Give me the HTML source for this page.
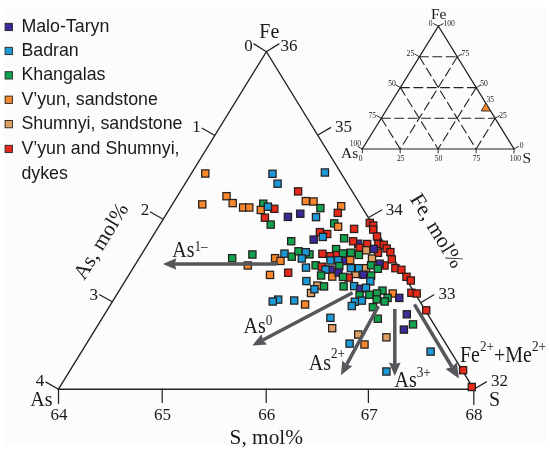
<!DOCTYPE html>
<html><head><meta charset="utf-8"><title>Ternary</title>
<style>
html,body{margin:0;padding:0;background:#fff;}
body{width:550px;height:450px;overflow:hidden;}
svg{display:block;will-change:transform;opacity:0.999}
text{font-family:"Liberation Serif",serif;fill:#1a1a1a;}
.ss{font-family:"Liberation Sans",sans-serif;font-size:17.8px;fill:#1a1a1a;}
.ax{stroke:#222;stroke-width:1.25;fill:none;stroke-linecap:round}
.t17{font-size:17px}
.t21{font-size:21.3px}
.t20{font-size:20px}
.sup{font-size:13.2px}
.ar{stroke:#55565a;stroke-width:3.2;fill:none}
.ah{fill:#55565a}
.mk rect{stroke:#261e1a;stroke-width:1.25}
.in text{font-size:7.6px}
</style></head><body>
<svg width="550" height="450" viewBox="0 0 550 450">
<rect width="550" height="450" fill="#fff"/>
<rect x="3" y="7" width="543" height="439" fill="#fcfcfd"/>
<!-- legend -->
<rect x="5.1" y="23.3" width="7.3" height="7.3" fill="#3a2a9c" stroke="#222" stroke-width="0.9"/><text x="21.4" y="31.8" class="ss">Malo-Taryn</text>
<rect x="5.1" y="47.3" width="7.3" height="7.3" fill="#1b9ad7" stroke="#222" stroke-width="0.9"/><text x="21.4" y="55.8" class="ss">Badran</text>
<rect x="5.1" y="71.7" width="7.3" height="7.3" fill="#10a24f" stroke="#222" stroke-width="0.9"/><text x="21.4" y="80.2" class="ss">Khangalas</text>
<rect x="5.1" y="96.1" width="7.3" height="7.3" fill="#f7882d" stroke="#222" stroke-width="0.9"/><text x="21.4" y="104.6" class="ss">V’yun, sandstone</text>
<rect x="5.1" y="120.5" width="7.3" height="7.3" fill="#dd9f63" stroke="#222" stroke-width="0.9"/><text x="21.4" y="129.0" class="ss">Shumnyi, sandstone</text>
<rect x="5.1" y="145.3" width="7.3" height="7.3" fill="#e5291b" stroke="#222" stroke-width="0.9"/><text x="21.4" y="153.8" class="ss">V’yun and Shumnyi,</text>
<text x="21.4" y="178.8" class="ss">dykes</text>
<!-- main triangle -->
<path class="ax" style="stroke-width:1.35" d="M58.5,389.2 L266.4,51.7 L473.8,389.2"/>
<path class="ax" style="stroke-width:1.5" d="M58.1,389.25 H474.2"/>
<path class="ax" d="M266.4,51.7 L253.9,43.9 M266.4,51.7 L278.9,43.9"/>
<path class="ax" d="M214.5,135.2 L202.2,128.2 M162.2,218.8 L150.4,212 M111.8,301.5 L99.6,294.8 M58.5,389.2 L46,382.1"/>
<path class="ax" d="M58.5,389.2 V403.6 M162.2,389.2 V402.4 M266.2,389.2 V402.4 M368.4,389.2 V402.4 M473.8,389.2 V404.5"/>
<path class="ax" d="M318.3,134.8 L330.6,127.6 M369.1,217.2 L381.7,210 M421.4,302.2 L433.9,294.8 M473.8,389.2 L486.4,381.9"/>
<!-- labels -->
<text x="259.3" y="37.6" class="t20">Fe</text>
<text x="244.2" y="51.2" class="t17">0</text>
<text x="280.4" y="51.2" class="t17">36</text>
<text x="192.3" y="132.4" class="t17">1</text>
<text x="140.8" y="215" class="t17">2</text>
<text x="89.5" y="299.5" class="t17">3</text>
<text x="35.8" y="385.8" class="t17">4</text>
<text x="30.2" y="405.9" class="t20">As</text>
<text x="50.5" y="420" class="t17">64</text>
<text x="154" y="420" class="t17">65</text>
<text x="258.2" y="420" class="t17">66</text>
<text x="360.8" y="420" class="t17">67</text>
<text x="465.5" y="419.5" class="t17">68</text>
<text x="489" y="406" class="t20">S</text>
<text x="491" y="385.6" class="t17">32</text>
<text x="438.6" y="299" class="t17">33</text>
<text x="385.8" y="214.8" class="t17">34</text>
<text x="335" y="132.3" class="t17">35</text>
<text x="229.6" y="443.6" class="t21">S, mol%</text>
<text transform="translate(84.3,281) rotate(-58.4)" class="t21">As, mol%</text>
<text transform="translate(409.5,199) rotate(58.4)" class="t21">Fe, mol%</text>
<!-- markers -->
<g class="mk">
<rect x="201.7" y="169.9" width="7.2" height="7.2" fill="#f7882d"/>
<rect x="198.7" y="200.8" width="7.2" height="7.2" fill="#f7882d"/>
<rect x="222.9" y="192.6" width="7.2" height="7.2" fill="#f7882d"/>
<rect x="229.1" y="199.5" width="7.2" height="7.2" fill="#f7882d"/>
<rect x="239.5" y="203.9" width="7.2" height="7.2" fill="#f7882d"/>
<rect x="245.7" y="203.9" width="7.2" height="7.2" fill="#f7882d"/>
<rect x="259.7" y="200.1" width="7.2" height="7.2" fill="#10a24f"/>
<rect x="257.2" y="206.4" width="7.2" height="7.2" fill="#f7882d"/>
<rect x="270.7" y="205.2" width="7.2" height="7.2" fill="#e5291b"/>
<rect x="264.3" y="203.1" width="7.2" height="7.2" fill="#1b9ad7"/>
<rect x="261.3" y="214.1" width="7.2" height="7.2" fill="#e5291b"/>
<rect x="267.1" y="221.0" width="7.2" height="7.2" fill="#10a24f"/>
<rect x="268.9" y="170.2" width="7.2" height="7.2" fill="#1b9ad7"/>
<rect x="274.0" y="180.1" width="7.2" height="7.2" fill="#1b9ad7"/>
<rect x="294.5" y="187.8" width="7.2" height="7.2" fill="#e5291b"/>
<rect x="302.2" y="197.5" width="7.2" height="7.2" fill="#f7882d"/>
<rect x="309.9" y="197.9" width="7.2" height="7.2" fill="#f7882d"/>
<rect x="316.8" y="204.5" width="7.2" height="7.2" fill="#10a24f"/>
<rect x="312.4" y="213.5" width="7.2" height="7.2" fill="#1b9ad7"/>
<rect x="284.3" y="213.3" width="7.2" height="7.2" fill="#3a2a9c"/>
<rect x="296.7" y="210.1" width="7.2" height="7.2" fill="#3a2a9c"/>
<rect x="321.3" y="168.9" width="7.2" height="7.2" fill="#1b9ad7"/>
<rect x="287.6" y="237.6" width="7.2" height="7.2" fill="#10a24f"/>
<rect x="310.1" y="236.0" width="7.2" height="7.2" fill="#3a2a9c"/>
<rect x="316.3" y="228.5" width="7.2" height="7.2" fill="#e5291b"/>
<rect x="323.6" y="230.4" width="7.2" height="7.2" fill="#e5291b"/>
<rect x="319.2" y="233.3" width="7.2" height="7.2" fill="#1b9ad7"/>
<rect x="337.6" y="202.6" width="7.2" height="7.2" fill="#f7882d"/>
<rect x="334.2" y="209.3" width="7.2" height="7.2" fill="#e5291b"/>
<rect x="330.6" y="219.8" width="7.2" height="7.2" fill="#10a24f"/>
<rect x="334.5" y="223.1" width="7.2" height="7.2" fill="#f7882d"/>
<rect x="350.5" y="225.3" width="7.2" height="7.2" fill="#e5291b"/>
<rect x="366.2" y="219.3" width="7.2" height="7.2" fill="#e5291b"/>
<rect x="369.6" y="221.9" width="7.2" height="7.2" fill="#e5291b"/>
<rect x="369.6" y="226.0" width="7.2" height="7.2" fill="#e5291b"/>
<rect x="373.4" y="232.9" width="7.2" height="7.2" fill="#e5291b"/>
<rect x="340.5" y="234.7" width="7.2" height="7.2" fill="#10a24f"/>
<rect x="354.6" y="240.1" width="7.2" height="7.2" fill="#3a2a9c"/>
<rect x="349.5" y="237.7" width="7.2" height="7.2" fill="#e5291b"/>
<rect x="363.6" y="240.4" width="7.2" height="7.2" fill="#e5291b"/>
<rect x="374.7" y="240.4" width="7.2" height="7.2" fill="#e5291b"/>
<rect x="356.0" y="244.1" width="7.2" height="7.2" fill="#e5291b"/>
<rect x="362.6" y="246.7" width="7.2" height="7.2" fill="#dd9f63"/>
<rect x="332.5" y="245.5" width="7.2" height="7.2" fill="#10a24f"/>
<rect x="380.2" y="241.2" width="7.2" height="7.2" fill="#e5291b"/>
<rect x="383.1" y="244.9" width="7.2" height="7.2" fill="#e5291b"/>
<rect x="386.8" y="248.5" width="7.2" height="7.2" fill="#e5291b"/>
<rect x="388.2" y="255.8" width="7.2" height="7.2" fill="#e5291b"/>
<rect x="374.4" y="249.2" width="7.2" height="7.2" fill="#e5291b"/>
<rect x="380.9" y="261.9" width="7.2" height="7.2" fill="#e5291b"/>
<rect x="391.8" y="264.6" width="7.2" height="7.2" fill="#e5291b"/>
<rect x="397.8" y="266.2" width="7.2" height="7.2" fill="#e5291b"/>
<rect x="402.9" y="273.2" width="7.2" height="7.2" fill="#e5291b"/>
<rect x="407.2" y="276.9" width="7.2" height="7.2" fill="#e5291b"/>
<rect x="407.8" y="289.2" width="7.2" height="7.2" fill="#e5291b"/>
<rect x="413.1" y="289.9" width="7.2" height="7.2" fill="#e5291b"/>
<rect x="422.6" y="306.7" width="7.2" height="7.2" fill="#e5291b"/>
<rect x="459.5" y="366.6" width="7.2" height="7.2" fill="#e5291b"/>
<rect x="468.2" y="383.4" width="7.2" height="7.2" fill="#e5291b"/>
<rect x="370.3" y="245.3" width="7.2" height="7.2" fill="#3a2a9c"/>
<rect x="228.6" y="254.6" width="7.2" height="7.2" fill="#10a24f"/>
<rect x="248.8" y="250.9" width="7.2" height="7.2" fill="#10a24f"/>
<rect x="244.2" y="261.9" width="7.2" height="7.2" fill="#f7882d"/>
<rect x="271.5" y="254.6" width="7.2" height="7.2" fill="#f7882d"/>
<rect x="276.9" y="257.3" width="7.2" height="7.2" fill="#f7882d"/>
<rect x="280.9" y="250.0" width="7.2" height="7.2" fill="#1b9ad7"/>
<rect x="288.2" y="253.1" width="7.2" height="7.2" fill="#10a24f"/>
<rect x="294.9" y="247.7" width="7.2" height="7.2" fill="#10a24f"/>
<rect x="305.9" y="250.8" width="7.2" height="7.2" fill="#10a24f"/>
<rect x="302.2" y="248.6" width="7.2" height="7.2" fill="#1b9ad7"/>
<rect x="298.2" y="254.9" width="7.2" height="7.2" fill="#1b9ad7"/>
<rect x="318.8" y="250.2" width="7.2" height="7.2" fill="#e5291b"/>
<rect x="326.9" y="252.6" width="7.2" height="7.2" fill="#e5291b"/>
<rect x="333.5" y="251.5" width="7.2" height="7.2" fill="#e5291b"/>
<rect x="339.3" y="249.8" width="7.2" height="7.2" fill="#10a24f"/>
<rect x="347.3" y="249.1" width="7.2" height="7.2" fill="#10a24f"/>
<rect x="355.3" y="251.3" width="7.2" height="7.2" fill="#10a24f"/>
<rect x="340.0" y="257.3" width="7.2" height="7.2" fill="#3a2a9c"/>
<rect x="326.9" y="256.9" width="7.2" height="7.2" fill="#1b9ad7"/>
<rect x="334.5" y="256.6" width="7.2" height="7.2" fill="#1b9ad7"/>
<rect x="346.6" y="256.6" width="7.2" height="7.2" fill="#f7882d"/>
<rect x="368.4" y="255.0" width="7.2" height="7.2" fill="#dd9f63"/>
<rect x="376.0" y="260.1" width="7.2" height="7.2" fill="#3a2a9c"/>
<rect x="312.0" y="261.7" width="7.2" height="7.2" fill="#10a24f"/>
<rect x="302.4" y="264.0" width="7.2" height="7.2" fill="#1b9ad7"/>
<rect x="318.2" y="263.1" width="7.2" height="7.2" fill="#e5291b"/>
<rect x="326.9" y="266.0" width="7.2" height="7.2" fill="#3a2a9c"/>
<rect x="321.9" y="266.0" width="7.2" height="7.2" fill="#1b9ad7"/>
<rect x="335.7" y="262.4" width="7.2" height="7.2" fill="#10a24f"/>
<rect x="351.7" y="270.4" width="7.2" height="7.2" fill="#dd9f63"/>
<rect x="347.3" y="264.6" width="7.2" height="7.2" fill="#1b9ad7"/>
<rect x="355.3" y="264.6" width="7.2" height="7.2" fill="#1b9ad7"/>
<rect x="362.4" y="264.6" width="7.2" height="7.2" fill="#dd9f63"/>
<rect x="367.5" y="261.7" width="7.2" height="7.2" fill="#10a24f"/>
<rect x="374.2" y="265.2" width="7.2" height="7.2" fill="#10a24f"/>
<rect x="266.4" y="271.3" width="7.2" height="7.2" fill="#f7882d"/>
<rect x="284.6" y="269.1" width="7.2" height="7.2" fill="#e5291b"/>
<rect x="317.5" y="271.9" width="7.2" height="7.2" fill="#10a24f"/>
<rect x="328.7" y="273.0" width="7.2" height="7.2" fill="#f7882d"/>
<rect x="334.9" y="268.9" width="7.2" height="7.2" fill="#3a2a9c"/>
<rect x="345.1" y="274.0" width="7.2" height="7.2" fill="#e5291b"/>
<rect x="339.3" y="273.3" width="7.2" height="7.2" fill="#10a24f"/>
<rect x="359.8" y="271.1" width="7.2" height="7.2" fill="#3a2a9c"/>
<rect x="367.5" y="271.9" width="7.2" height="7.2" fill="#10a24f"/>
<rect x="302.8" y="277.5" width="7.2" height="7.2" fill="#1b9ad7"/>
<rect x="366.7" y="277.8" width="7.2" height="7.2" fill="#1b9ad7"/>
<rect x="313.8" y="282.0" width="7.2" height="7.2" fill="#dd9f63"/>
<rect x="307.4" y="289.4" width="7.2" height="7.2" fill="#dd9f63"/>
<rect x="320.4" y="282.8" width="7.2" height="7.2" fill="#10a24f"/>
<rect x="310.8" y="285.6" width="7.2" height="7.2" fill="#1b9ad7"/>
<rect x="340.0" y="282.8" width="7.2" height="7.2" fill="#10a24f"/>
<rect x="350.5" y="282.5" width="7.2" height="7.2" fill="#1b9ad7"/>
<rect x="356.7" y="285.2" width="7.2" height="7.2" fill="#3a2a9c"/>
<rect x="362.4" y="284.2" width="7.2" height="7.2" fill="#1b9ad7"/>
<rect x="378.9" y="287.0" width="7.2" height="7.2" fill="#10a24f"/>
<rect x="373.3" y="289.9" width="7.2" height="7.2" fill="#10a24f"/>
<rect x="365.7" y="291.2" width="7.2" height="7.2" fill="#10a24f"/>
<rect x="356.0" y="291.5" width="7.2" height="7.2" fill="#10a24f"/>
<rect x="389.1" y="289.9" width="7.2" height="7.2" fill="#f7882d"/>
<rect x="395.7" y="294.3" width="7.2" height="7.2" fill="#3a2a9c"/>
<rect x="384.0" y="294.3" width="7.2" height="7.2" fill="#10a24f"/>
<rect x="373.1" y="295.8" width="7.2" height="7.2" fill="#10a24f"/>
<rect x="381.1" y="297.9" width="7.2" height="7.2" fill="#10a24f"/>
<rect x="358.3" y="297.0" width="7.2" height="7.2" fill="#1b9ad7"/>
<rect x="351.2" y="298.1" width="7.2" height="7.2" fill="#1b9ad7"/>
<rect x="348.2" y="302.4" width="7.2" height="7.2" fill="#1b9ad7"/>
<rect x="369.3" y="303.6" width="7.2" height="7.2" fill="#10a24f"/>
<rect x="274.6" y="296.0" width="7.2" height="7.2" fill="#1b9ad7"/>
<rect x="269.1" y="297.9" width="7.2" height="7.2" fill="#1b9ad7"/>
<rect x="290.6" y="296.9" width="7.2" height="7.2" fill="#1b9ad7"/>
<rect x="301.5" y="300.9" width="7.2" height="7.2" fill="#f7882d"/>
<rect x="326.8" y="314.2" width="7.2" height="7.2" fill="#1b9ad7"/>
<rect x="328.6" y="324.6" width="7.2" height="7.2" fill="#dd9f63"/>
<rect x="354.6" y="330.9" width="7.2" height="7.2" fill="#dd9f63"/>
<rect x="346.0" y="340.0" width="7.2" height="7.2" fill="#1b9ad7"/>
<rect x="360.9" y="340.9" width="7.2" height="7.2" fill="#f7882d"/>
<rect x="374.2" y="315.1" width="7.2" height="7.2" fill="#10a24f"/>
<rect x="382.8" y="333.7" width="7.2" height="7.2" fill="#dd9f63"/>
<rect x="403.2" y="310.7" width="7.2" height="7.2" fill="#3a2a9c"/>
<rect x="409.4" y="320.8" width="7.2" height="7.2" fill="#10a24f"/>
<rect x="400.3" y="326.0" width="7.2" height="7.2" fill="#3a2a9c"/>
<rect x="382.8" y="367.9" width="7.2" height="7.2" fill="#1b9ad7"/>
<rect x="427.0" y="348.0" width="7.2" height="7.2" fill="#1b9ad7"/>
</g>
<!-- arrows -->
<line x1="276.5" y1="264.0" x2="174.8" y2="264.0" stroke="#56575b" stroke-width="3.3"/><polygon fill="#56575b" points="162.8,264.0 176.3,258.2 174.8,264.0 176.3,269.8"/><line x1="352.6" y1="292.8" x2="262.9" y2="340.0" stroke="#56575b" stroke-width="3.5"/><polygon fill="#56575b" points="252.3,345.6 261.5,334.2 262.9,340.0 266.9,344.4"/><line x1="378.4" y1="306.2" x2="346.6" y2="364.7" stroke="#56575b" stroke-width="3.5"/><polygon fill="#56575b" points="340.9,375.2 342.3,360.6 346.6,364.7 352.4,366.1"/><line x1="394.8" y1="309.0" x2="394.8" y2="364.0" stroke="#56575b" stroke-width="3.5"/><polygon fill="#56575b" points="394.8,376.0 389.0,362.5 394.8,364.0 400.6,362.5"/><line x1="414.4" y1="304.4" x2="452.0" y2="367.0" stroke="#56575b" stroke-width="3.5"/><polygon fill="#56575b" points="458.9,378.6 445.5,369.1 452.0,367.0 456.8,362.3"/>
<!-- arrow labels -->
<g transform="translate(172.3,257.4) scale(1,1.12)"><text x="0" y="0" class="t20">As<tspan dy="-5.9" class="sup">1–</tspan></text></g><g transform="translate(243.6,333.3) scale(1,1.12)"><text x="0" y="0" class="t20">As<tspan dy="-7.8" class="sup">0</tspan></text></g><g transform="translate(308.7,370.2) scale(1,1.12)"><text x="0" y="0" class="t20">As<tspan dy="-10.7" class="sup">2+</tspan></text></g><g transform="translate(394.5,386.5) scale(1,1.12)"><text x="0" y="0" class="t20">As<tspan dy="-8.9" class="sup">3+</tspan></text></g><g transform="translate(460,361.5) scale(1,1.12)"><text x="0" y="0" class="t20">Fe<tspan dy="-9.4" class="sup">2+</tspan><tspan dy="9.4">+Me</tspan><tspan dy="-9.4" class="sup">2+</tspan></text></g>
<!-- inset -->
<g class="in"><path class="ax" style="stroke-width:1.2" d="M438.4,26.1 L362.3,149.0 L514.0,149.0 Z"/><path class="ax" style="stroke-width:1.1" stroke-dasharray="9 4.4" d="M419.4,56.8 L457.3,56.8 M419.4,56.8 L476.1,149.0 M457.3,56.8 L400.2,149.0 M400.4,87.6 L476.2,87.6 M400.4,87.6 L438.1,149.0 M476.2,87.6 L438.1,149.0 M381.3,118.3 L495.1,118.3 M381.3,118.3 L400.2,149.0 M495.1,118.3 L476.1,149.0 "/><path class="ax" style="stroke-width:0.95" d="M419.4,56.8 l-4.6,-2.7 M457.3,56.8 l4.6,-2.7 M400.2,149.0 v4 M400.4,87.6 l-4.6,-2.7 M476.2,87.6 l4.6,-2.7 M438.1,149.0 v4 M381.3,118.3 l-4.6,-2.7 M495.1,118.3 l4.6,-2.7 M476.1,149.0 v4 M438.4,26.1 l-4.8,-2.4 M438.4,26.1 l4.8,-2.4 M362.3,149.0 l-4.4,-2.4 M362.3,149.0 v4 M514.0,149.0 l4.6,-2.6 M514.0,149.0 v4"/><polygon points="485.8,103 481.3,111 490.3,111" fill="#f7882d" stroke="#2a2420" stroke-width="0.9"/><text x="431" y="19" style="font-size:15.5px">Fe</text><text x="341" y="157.6" style="font-size:15.5px">As</text><text x="522.5" y="162.6" style="font-size:15.5px">S</text><text x="430.6" y="25.6" text-anchor="middle">0</text><text x="449.2" y="25.6" text-anchor="middle">100</text><text x="410.4" y="55.8" text-anchor="middle">25</text><text x="465.4" y="55.8" text-anchor="middle">75</text><text x="392" y="86.2" text-anchor="middle">50</text><text x="484" y="85.6" text-anchor="middle">50</text><text x="490.2" y="102" text-anchor="middle">35</text><text x="372.2" y="118" text-anchor="middle">75</text><text x="503" y="118.4" text-anchor="middle">25</text><text x="355.4" y="146" text-anchor="middle">100</text><text x="521.6" y="148" text-anchor="middle">0</text><text x="360.6" y="161.4" text-anchor="middle">0</text><text x="400.8" y="161.4" text-anchor="middle">25</text><text x="438.6" y="161.4" text-anchor="middle">50</text><text x="476.6" y="161.4" text-anchor="middle">75</text><text x="515.4" y="161.4" text-anchor="middle">100</text></g>
</svg>
</body></html>
